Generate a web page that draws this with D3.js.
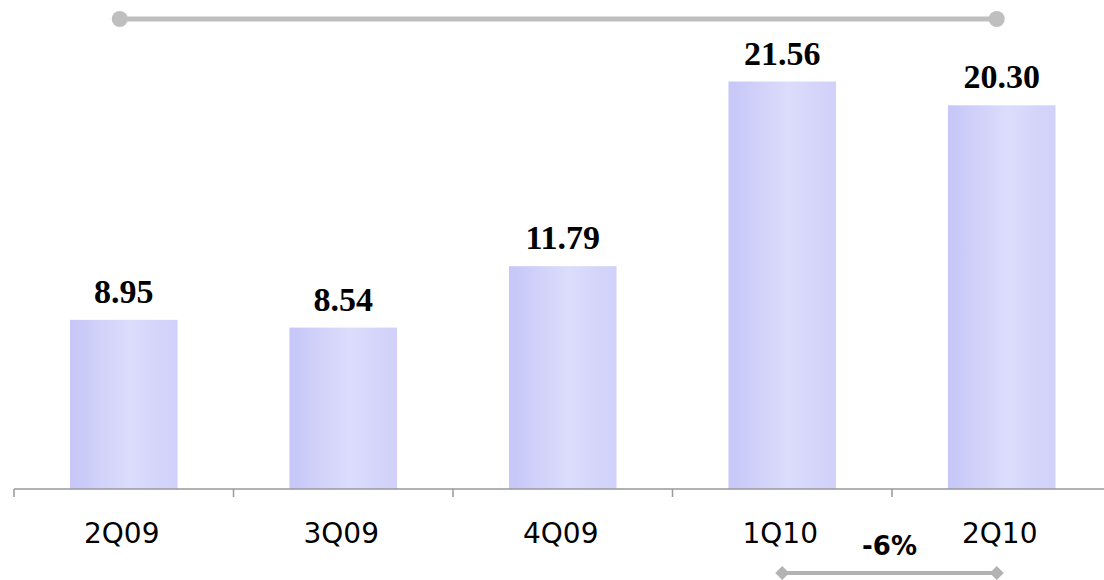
<!DOCTYPE html>
<html>
<head>
<meta charset="utf-8">
<script src="https://cdn.jsdelivr.net/npm/d3@7"></script>
<style>
  body { margin: 0; background: #fff; }
</style>
</head>
<body>
<div id="chart"></div>
<script>
var quarters = ["2Q09", "3Q09", "4Q09", "1Q10", "2Q10"];
var values = [8.95, 8.54, 11.79, 21.56, 20.30];
var changeLabel = "-6%";

var width = 1104, height = 580;
var baseY = 489;

var svg = d3.select("#chart").append("svg")
    .attr("width", width).attr("height", height);

// bar gradient, darker at the edges
var grad = svg.append("defs").append("linearGradient")
    .attr("id", "barGrad").attr("x1", "0%").attr("x2", "100%").attr("y1", "0%").attr("y2", "0%");
grad.append("stop").attr("offset", "0%").attr("stop-color", "#c6c6f8");
grad.append("stop").attr("offset", "55%").attr("stop-color", "#dcdcfc");
grad.append("stop").attr("offset", "100%").attr("stop-color", "#d0d0fa");

// X axis
var x = d3.scaleBand().domain(quarters).range([14, 1111.5])
    .paddingInner(0.51).paddingOuter(0.255);

// Y axis
var y = d3.scaleLinear().domain([0, 25]).range([baseY, 16.5]);

// bars
svg.append("g").selectAll("rect")
    .data(values)
    .enter()
    .append("rect")
      .attr("x", function (d, i) { return x(quarters[i]); })
      .attr("y", function (d) { return y(d); })
      .attr("width", x.bandwidth())
      .attr("height", function (d) { return baseY - y(d); })
      .style("fill", "url(#barGrad)");

// value labels
svg.append("g").selectAll("text")
    .data(values)
    .enter()
    .append("text")
      .attr("x", function (d, i) { return x(quarters[i]) + x.bandwidth() / 2; })
      .attr("y", function (d) { return y(d) - 17; })
      .attr("text-anchor", "middle")
      .style("font-family", "'Liberation Serif', 'Times New Roman', serif")
      .style("font-weight", "bold")
      .style("font-size", "34px")
      .style("fill", "#000")
      .text(function (d) { return d3.format(".2f")(d); });

// axis line and ticks between categories
var step = x.step();
var tickXs = quarters.map(function (q) { return x(q) - step * x.paddingInner() / 2; });
svg.append("line")
    .attr("x1", tickXs[0]).attr("x2", width)
    .attr("y1", baseY).attr("y2", baseY)
    .style("stroke", "#999").style("stroke-width", 1.5);
svg.append("g").selectAll("line")
    .data(tickXs)
    .enter()
    .append("line")
      .attr("x1", function (d) { return d; }).attr("x2", function (d) { return d; })
      .attr("y1", baseY).attr("y2", baseY + 8)
      .style("stroke", "#999").style("stroke-width", 1.5);

// category labels
svg.append("g").selectAll("text")
    .data(quarters)
    .enter()
    .append("text")
      .attr("x", function (d) { return x(d) + x.bandwidth() / 2 - 2; })
      .attr("y", 543)
      .attr("text-anchor", "middle")
      .style("font-family", "'DejaVu Sans', sans-serif")
      .style("font-size", "28px")
      .style("fill", "#000")
      .text(function (d) { return d; });

// top bracket line with round ends
var cx = function (q) { return x(q) + x.bandwidth() / 2; };
var topX1 = cx(quarters[0]) - 4, topX2 = cx(quarters[4]) - 5, topY = 19;
svg.append("line")
    .attr("x1", topX1).attr("x2", topX2).attr("y1", topY).attr("y2", topY)
    .style("stroke", "#bfbfbf").style("stroke-width", 5);
svg.selectAll(".endDot")
    .data([topX1, topX2])
    .enter()
    .append("circle")
      .attr("class", "endDot")
      .attr("cx", function (d) { return d; }).attr("cy", topY).attr("r", 8)
      .style("fill", "#bfbfbf");

// bottom change arrow with diamond ends
var botX1 = cx(quarters[3]), botX2 = cx(quarters[4]) - 5, botY = 573;
svg.append("line")
    .attr("x1", botX1).attr("x2", botX2).attr("y1", botY).attr("y2", botY)
    .style("stroke", "#b3b3b3").style("stroke-width", 4);
svg.selectAll(".endDiamond")
    .data([botX1, botX2])
    .enter()
    .append("path")
      .attr("class", "endDiamond")
      .attr("d", function (d) { return "M" + (d - 7) + "," + botY + "L" + d + "," + (botY - 7) + "L" + (d + 7) + "," + botY + "L" + d + "," + (botY + 7) + "Z"; })
      .style("fill", "#b3b3b3");

svg.append("text")
    .attr("x", (botX1 + botX2) / 2)
    .attr("y", 555)
    .attr("text-anchor", "middle")
    .style("font-family", "'DejaVu Sans', sans-serif")
    .style("font-weight", "bold")
    .style("font-size", "26px")
    .style("fill", "#000")
    .text(changeLabel);
</script>
</body>
</html>
